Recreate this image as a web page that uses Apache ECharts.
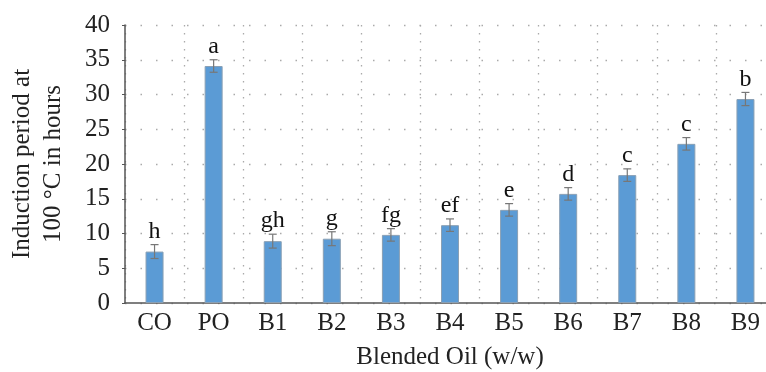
<!DOCTYPE html>
<html><head><meta charset="utf-8">
<script src="https://cdn.jsdelivr.net/npm/echarts@6/dist/echarts.min.js"></script>
<style>html,body{margin:0;padding:0;background:#fff}#c{width:766px;height:372px}</style>
</head><body><div id="c"></div>
<script>
const categories = ['CO','PO','B1','B2','B3','B4','B5','B6','B7','B8','B9'];
const values = [7.4, 34.1, 8.9, 9.25, 9.8, 11.2, 13.4, 15.7, 18.4, 22.9, 29.35];
const errors = [1.0, 0.9, 1.0, 1.0, 0.9, 0.9, 0.9, 0.9, 0.9, 0.9, 0.95];
const letters = ['h','a','gh','g','fg','ef','e','d','c','c','b'];
const yTicks = [0,5,10,15,20,25,30,35,40];

const font = 'Liberation Serif, DejaVu Serif, serif';
const chart = echarts.init(document.getElementById('c'));
chart.setOption({
  animation: false,
  grid: {left: 125, top: 25, width: 650, height: 278, containLabel: false, outerBoundsMode: 'none'},
  xAxis: {
    type: 'category', data: categories,
    name: 'Blended Oil (w/w)', nameLocation: 'middle', nameGap: 42,
    nameTextStyle: {fontFamily: font, fontSize: 25, color: '#222'},
    axisLine: {lineStyle: {color: '#555', width: 1.5}},
    axisTick: {show: false},
    axisLabel: {fontFamily: font, fontSize: 25, color: '#222', margin: 8},
    splitLine: {show: true, interval: 0, lineStyle: {color: '#aaa', type: [1.5, 6.5], width: 1.3}}
  },
  yAxis: {
    type: 'value', min: 0, max: 40, interval: 5,
    name: 'Induction period at\n100 °C in hours', nameLocation: 'middle', nameGap: 56,
    nameTextStyle: {fontFamily: font, fontSize: 25, color: '#222', lineHeight: 31},
    axisLine: {show: true, lineStyle: {color: '#555', width: 1.5}},
    axisTick: {show: true, length: 3, lineStyle: {color: '#555'}},
    axisLabel: {fontFamily: font, fontSize: 25, color: '#222', margin: 15,
      formatter: v => yTicks.includes(v) ? String(v) : ''},
    splitLine: {show: true, lineStyle: {color: '#aaa', type: [1.5, 14], width: 1.3}}
  },
  series: [
    {
      type: 'bar', data: values, barWidth: 18,
      itemStyle: {color: '#5b9bd5', borderColor: '#8aa0b5', borderWidth: 1}
    },
    {
      type: 'custom',
      data: values.map((v, i) => [i, v, errors[i], letters[i]]),
      renderItem: function (params, api) {
        const x = api.value(0), v = api.value(1), e = api.value(2);
        const top = api.coord([x, v + e]);
        const bot = api.coord([x, v - e]);
        const w = 4;
        const c = '#777';
        return {
          type: 'group',
          children: [
            {type: 'line', shape: {x1: top[0], y1: top[1], x2: bot[0], y2: bot[1]}, style: {stroke: c, lineWidth: 1.2}},
            {type: 'line', shape: {x1: top[0]-w, y1: top[1], x2: top[0]+w, y2: top[1]}, style: {stroke: c, lineWidth: 1.2}},
            {type: 'line', shape: {x1: bot[0]-w, y1: bot[1], x2: bot[0]+w, y2: bot[1]}, style: {stroke: c, lineWidth: 1.2}},
            {type: 'text', style: {text: letters[params.dataIndex], x: top[0], y: top[1] - 1,
              textAlign: 'center', textVerticalAlign: 'bottom', font: '24px ' + font, fill: '#111'}}
          ]
        };
      },
      z: 5
    }
  ]
});
</script></body></html>
